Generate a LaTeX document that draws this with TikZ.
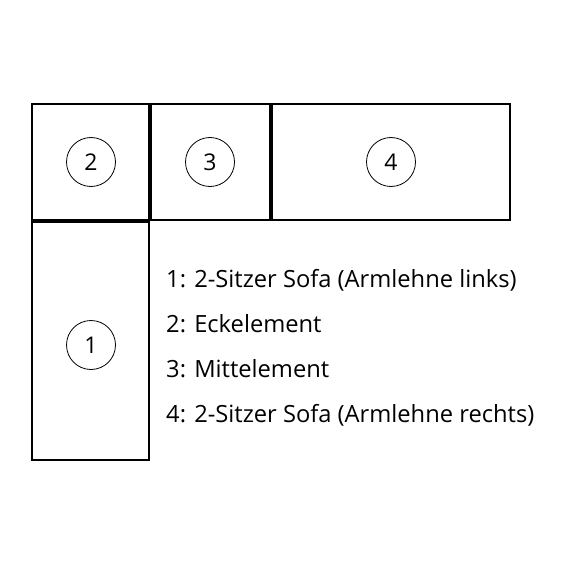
\documentclass[tikz,border=0pt]{standalone}
\usepackage{fontspec}
\setmainfont{Open Sans}
\begin{document}
\begin{tikzpicture}[x=1pt,y=-1pt,
  seat/.style={draw=black,line width=2pt},
  num/.style={draw=black,line width=0.8pt,circle,minimum size=49pt,inner sep=0pt,font=\fontsize{23}{27}\selectfont},
  legend/.style={anchor=base west,inner sep=0pt,font=\fontsize{23.7}{28}\selectfont}]
\useasboundingbox (0,0) rectangle (564,564);
\draw[seat] (32,104) rectangle (149,220);
\draw[seat] (151,104) rectangle (270,220);
\draw[seat] (272,104) rectangle (510,220);
\draw[seat] (32,222) rectangle (149,460);
\node[num] (c2) at (91,162) {2};
\node[num] (c3) at (210,162) {3};
\node[num] (c4) at (391,162) {4};
\node[num] (c1) at (91,345) {1};
\node[legend] (l1) at (166,287) {1: 2-Sitzer Sofa (Armlehne links)};
\node[legend] (l2) at (166,332) {2: Eckelement};
\node[legend] (l3) at (166,377) {3: Mittelement};
\node[legend] (l4) at (166,422) {4: 2-Sitzer Sofa (Armlehne rechts)};
\end{tikzpicture}
\end{document}
